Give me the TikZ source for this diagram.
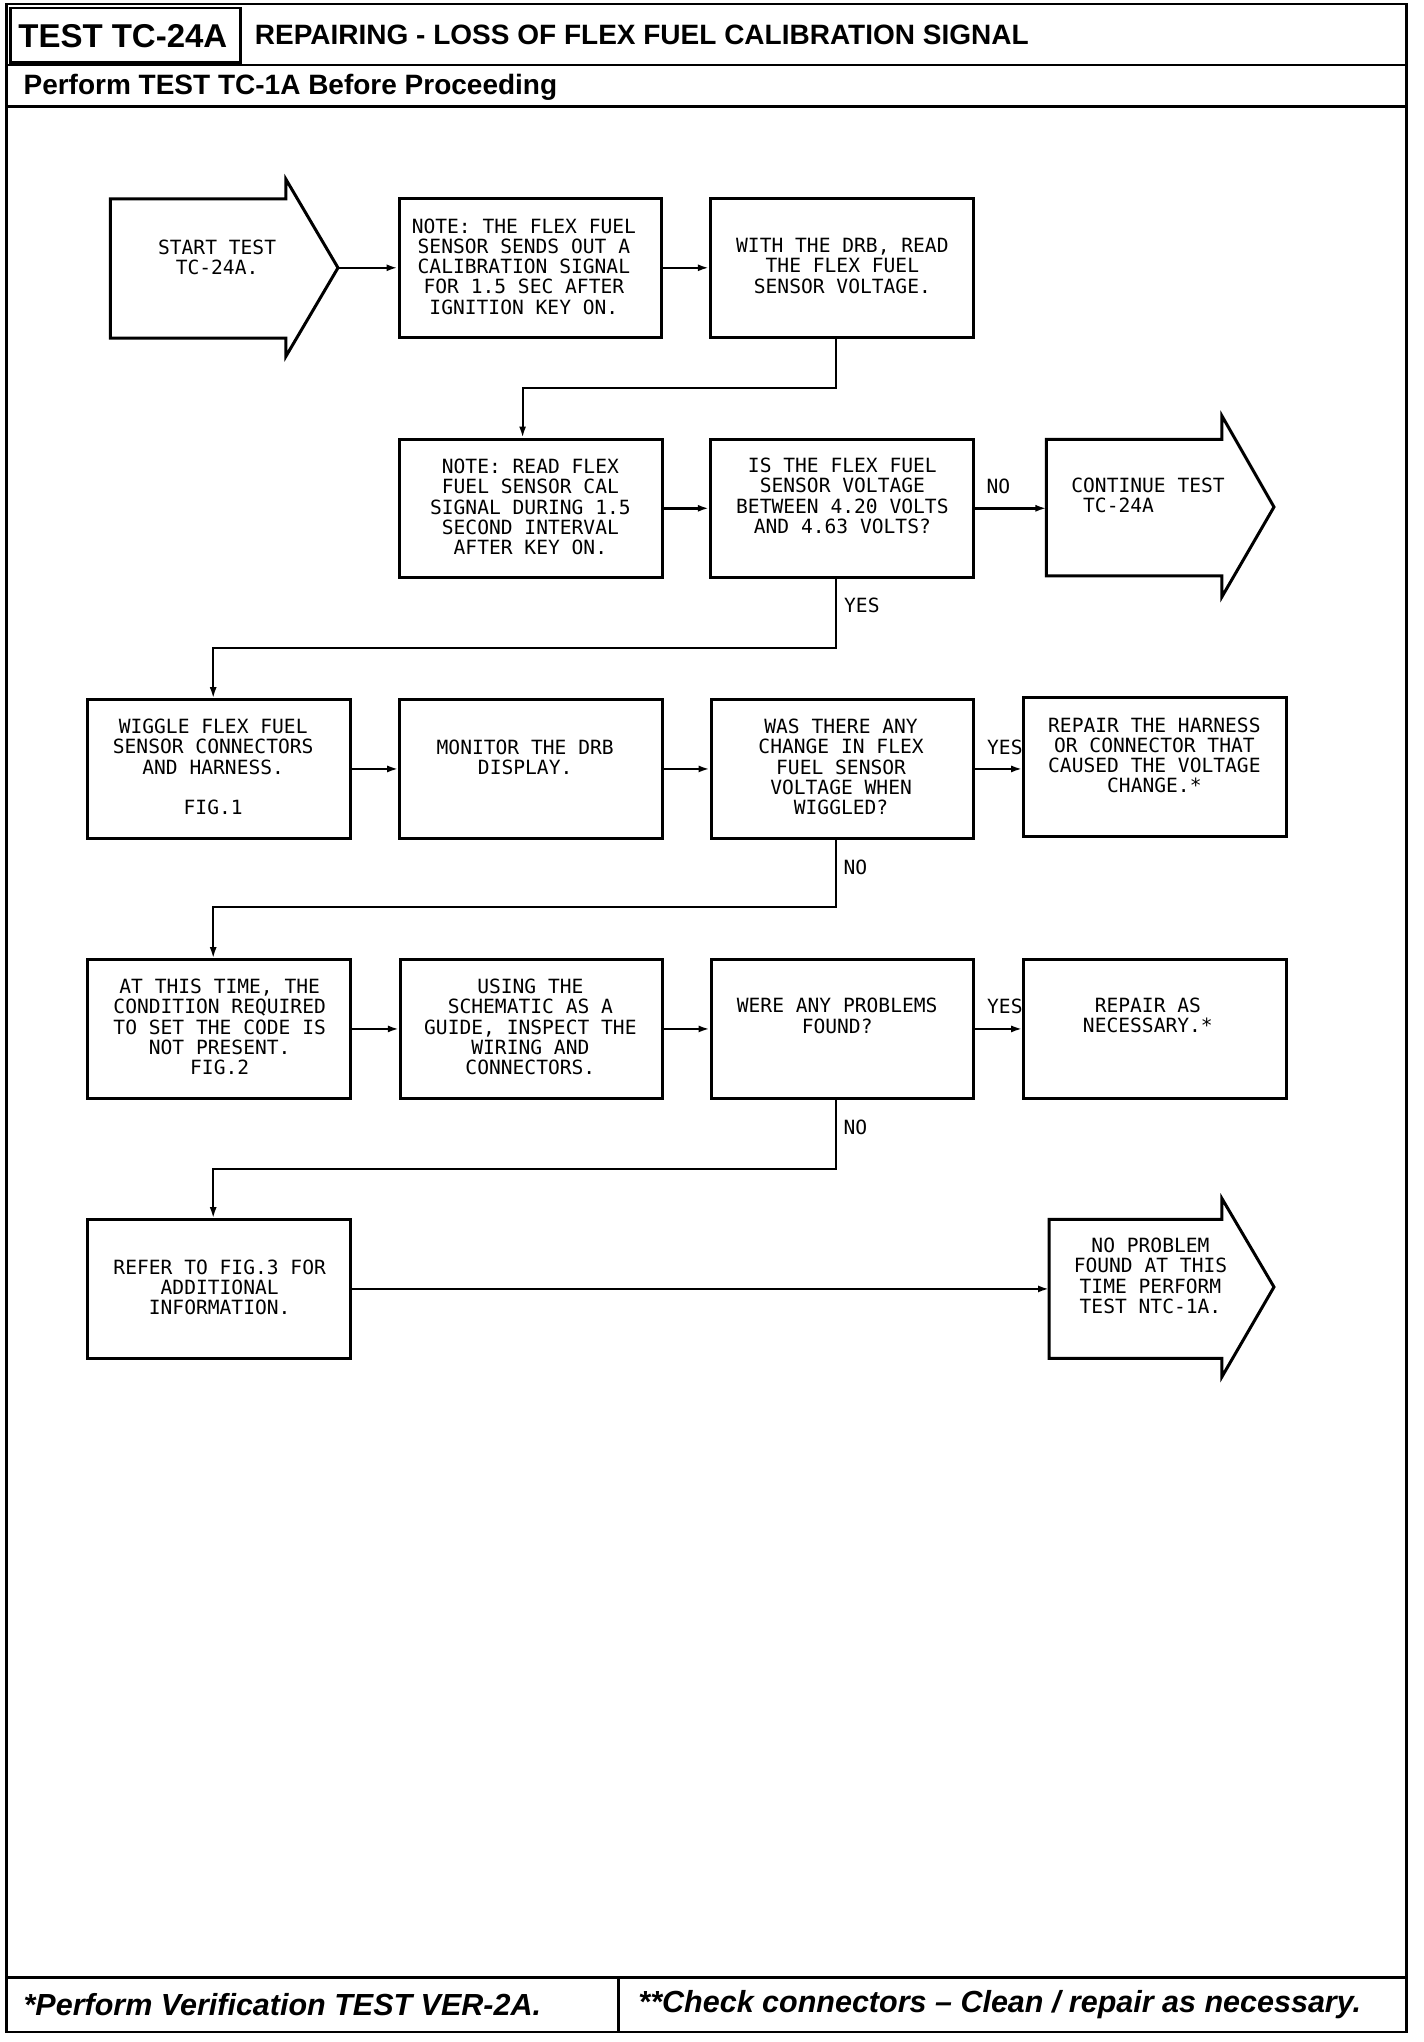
\documentclass[tikz,border=0pt]{standalone}
\usepackage{fontspec}
\setmainfont{Liberation Sans}
\newfontfamily\plotfont{DejaVu Sans Mono}
\usetikzlibrary{arrows.meta}
\begin{document}
\begin{tikzpicture}[x=1.3pt,y=-1.3pt,
  box/.style={draw,line width=3pt,minimum width=262.6pt,minimum height=138.5pt,inner sep=0pt},
  txt/.style={font=\plotfont\fontsize{19.6}{20.2}\selectfont,align=center,inner sep=0pt},
  ltxt/.style={font=\plotfont\fontsize{19.6}{20.2}\selectfont,align=left,inner sep=0pt},
  lbl/.style={font=\plotfont\fontsize{19.6}{20.2}\selectfont,inner sep=0pt},
  conn/.style={line width=2.6pt,-{Latex[length=11pt,width=7pt]}},
  route/.style={line width=2pt,-{Latex[length=11pt,width=7pt]}},
  frame/.style={line width=2.6pt},
  bigarrow/.style={line width=3pt,line join=miter},
  hdr/.style={font=\bfseries\fontsize{28}{32}\selectfont,inner sep=0pt,anchor=west},
  ftr/.style={font=\bfseries\itshape\fontsize{30.5}{34}\selectfont,inner sep=0pt,anchor=west}
]
\useasboundingbox (0,0) rectangle (1095.4,1570.8);

% frame
\draw[frame] (5,3) rectangle (1082,1563);
\draw[frame] (5,50) -- (1082,50);
\draw[frame] (5,82) -- (1082,82);
\draw[frame] (5,1521) -- (1082,1521);
\draw[frame] (476,1521) -- (476,1563);
\draw[frame] (8,6) rectangle (185,48);

\node[font=\bfseries\fontsize{33}{36}\selectfont,inner sep=0pt] (tcid) at (94.5,28) {TEST TC-24A};
\node[hdr] (title) at (196,27) {REPAIRING - LOSS OF FLEX FUEL CALIBRATION SIGNAL};
\node[hdr] (pre) at (18,67) {Perform TEST TC-1A Before Proceeding};
\node[ftr] (fl) at (18,1542) {*Perform Verification TEST VER-2A.};
\node[ftr] (fr) at (491,1542) {**Check connectors -- Clean / repair as necessary.};

% big arrows
\draw[bigarrow] (85,153) -- (220,153) -- (220,138) -- (260,206) -- (220,274) -- (220,260) -- (85,260) -- cycle;
\coordinate (starttip) at (260,206);
\node[txt] (startt) at (167,198) {START TEST\\TC-24A.};

\draw[bigarrow] (805,338) -- (940,338) -- (940,320) -- (980,390) -- (940,459) -- (940,443) -- (805,443) -- cycle;
\coordinate (contin) at (805,390);
\node[ltxt,anchor=west] (contt) at (824,381) {CONTINUE TEST\\\ TC-24A};

\draw[bigarrow] (807,938) -- (940,938) -- (940,922) -- (980,990) -- (940,1059) -- (940,1045) -- (807,1045) -- cycle;
\coordinate (noprobin) at (807,991);
\node[txt] (noprobt) at (885,981.5) {NO PROBLEM\\FOUND AT THIS\\TIME PERFORM\\TEST NTC-1A.};

% boxes
\node[box] (note) at (408,206) {};
\node[txt] (notet) at (403,205) {NOTE: THE FLEX FUEL\\SENSOR SENDS OUT A\\CALIBRATION SIGNAL\\FOR 1.5 SEC AFTER\\IGNITION KEY ON.};
\node[box] (with) at (647.5,206) {};
\node[txt] (witht) at (648,204.5) {WITH THE DRB, READ\\THE FLEX FUEL\\SENSOR VOLTAGE.};

\node[box] (read) at (408.5,391) {};
\node[txt] (readt) at (408,390) {NOTE: READ FLEX\\FUEL SENSOR CAL\\SIGNAL DURING 1.5\\SECOND INTERVAL\\AFTER KEY ON.};
\node[box] (isthe) at (647.5,391) {};
\node[txt] (istht) at (648,381.5) {IS THE FLEX FUEL\\SENSOR VOLTAGE\\BETWEEN 4.20 VOLTS\\AND 4.63 VOLTS?};

\node[box] (wiggle) at (168.5,591.5) {};
\node[txt] (wigglet) at (164,590) {WIGGLE FLEX FUEL\\SENSOR CONNECTORS\\AND HARNESS.\\[20.2pt]FIG.1};
\node[box] (monitor) at (408.5,591.5) {};
\node[txt] (monitort) at (404,582.5) {MONITOR THE DRB\\DISPLAY.};
\node[box] (was) at (648,591.5) {};
\node[txt] (wast) at (647,590) {WAS THERE ANY\\CHANGE IN FLEX\\FUEL SENSOR\\VOLTAGE WHEN\\WIGGLED?};
\node[box] (rep1) at (888.5,590) {};
\node[txt] (rep1t) at (888,581) {REPAIR THE HARNESS\\OR CONNECTOR THAT\\CAUSED THE VOLTAGE\\CHANGE.*};

\node[box] (at) at (168.5,791.5) {};
\node[txt] (att) at (169,790) {AT THIS TIME, THE\\CONDITION REQUIRED\\TO SET THE CODE IS\\NOT PRESENT.\\FIG.2};
\node[box] (using) at (409,791.5) {};
\node[txt] (usingt) at (408,790) {USING THE\\SCHEMATIC AS A\\GUIDE, INSPECT THE\\WIRING AND\\CONNECTORS.};
\node[box] (were) at (648,791.5) {};
\node[txt] (weret) at (644,781.5) {WERE ANY PROBLEMS\\FOUND?};
\node[box] (rep2) at (888.5,791.5) {};
\node[txt] (rep2t) at (883,781) {REPAIR AS\\NECESSARY.*};

\node[box] (refer) at (168.5,991.5) {};
\node[txt] (refert) at (169,990.5) {REFER TO FIG.3 FOR\\ADDITIONAL\\INFORMATION.};

% labels
\node[lbl] (no1) at (768,374) {NO};
\node[lbl] (yes1) at (663,466) {YES};
\node[lbl] (yes2) at (773,575) {YES};
\node[lbl] (no2) at (658,667) {NO};
\node[lbl] (yes3) at (773,774) {YES};
\node[lbl] (no3) at (658,867) {NO};

% connectors
\draw[conn] (starttip) -- (note.west);
\draw[conn] (note.east) -- (with.west);
\draw[route] ([xshift=-5.85pt]with.south) -- ++(0,38) -| ([xshift=-8.45pt]read.north);
\draw[conn] (read.east) -- (isthe.west);
\draw[conn] (isthe.east) -- (isthe.east -| contin);
\draw[route] ([xshift=-5.85pt]isthe.south) -- ++(0,53) -| ([xshift=-5.85pt]wiggle.north);
\draw[conn] (wiggle.east) -- (monitor.west);
\draw[conn] (monitor.east) -- (was.west);
\draw[conn] (was.east) -- (was.east -| rep1.west);
\draw[route] ([xshift=-6.5pt]was.south) -- ++(0,52) -| ([xshift=-5.85pt]at.north);
\draw[conn] (at.east) -- (using.west);
\draw[conn] (using.east) -- (were.west);
\draw[conn] (were.east) -- (rep2.west);
\draw[route] ([xshift=-6.5pt]were.south) -- ++(0,53) -| ([xshift=-5.85pt]refer.north);
\draw[conn] (refer.east) -- (refer.east -| noprobin);
\end{tikzpicture}
\end{document}
